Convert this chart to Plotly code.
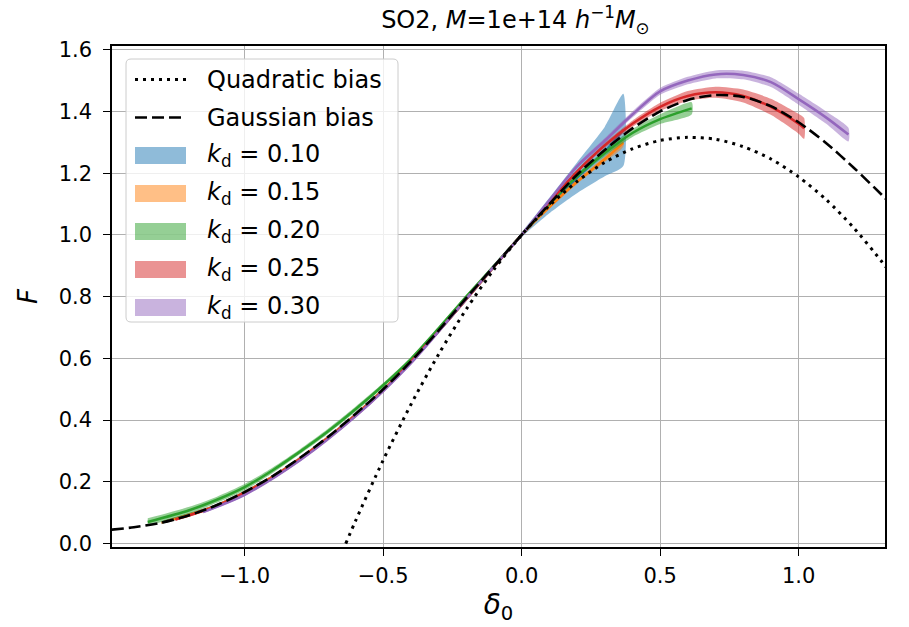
import plotly.graph_objects as go

# ---- data ----
quad_d = [-0.635, -0.6, -0.5, -0.4, -0.3, -0.2, -0.1, 0.0, 0.1, 0.2, 0.3, 0.4, 0.5, 0.6,
          0.7, 0.8, 0.9, 1.0, 1.1, 1.2, 1.3, 1.32]
quad_F = [0.0, 0.073, 0.27, 0.45, 0.613, 0.759, 0.888, 1.0, 1.095, 1.173, 1.235, 1.279, 1.306,
          1.316, 1.31, 1.286, 1.246, 1.188, 1.114, 1.022, 0.914, 0.89]

gauss_d = [-1.48, -1.4, -1.3, -1.2, -1.1, -1.0, -0.9, -0.8, -0.7, -0.6, -0.5, -0.4, -0.3,
           -0.2, -0.1, 0.0, 0.1, 0.2, 0.3, 0.4, 0.5, 0.6, 0.7, 0.8, 0.9, 1.0, 1.1, 1.2, 1.3, 1.32]
gauss_F = [0.045, 0.053, 0.068, 0.092, 0.125, 0.167, 0.218, 0.278, 0.345, 0.42, 0.50, 0.59,
           0.69, 0.795, 0.898, 1.0, 1.10, 1.195, 1.275, 1.345, 1.40, 1.437, 1.453, 1.447,
           1.417, 1.365, 1.297, 1.217, 1.13, 1.112]

kd_labels = ["0.10", "0.15", "0.20", "0.25", "0.30"]

kd010_d = [-1.30, -1.1, -0.9, -0.7, -0.5, -0.3, -0.1, 0.0, 0.1, 0.2, 0.3, 0.367]
kd010_F = [0.068, 0.124, 0.216, 0.343, 0.498, 0.688, 0.897, 1.0, 1.095, 1.185, 1.27, 1.34]
kd010_w = [0.005, 0.005, 0.005, 0.005, 0.005, 0.006, 0.007, 0.008, 0.025, 0.05, 0.08, 0.117]

kd015_d = [-1.30, -1.1, -0.9, -0.7, -0.5, -0.3, -0.1, 0.0, 0.1, 0.2, 0.3, 0.367]
kd015_F = [0.068, 0.124, 0.216, 0.343, 0.498, 0.688, 0.897, 1.0, 1.09, 1.172, 1.245, 1.298]
kd015_w = [0.004, 0.004, 0.004, 0.004, 0.004, 0.004, 0.004, 0.004, 0.005, 0.007, 0.009, 0.012]

kd020_d = [-1.35, -1.2, -1.1, -1.0, -0.9, -0.8, -0.7, -0.6, -0.5, -0.4, -0.3, -0.2, -0.1,
           0.0, 0.1, 0.2, 0.3, 0.4, 0.5, 0.614]
kd020_F = [0.070, 0.108, 0.142, 0.183, 0.237, 0.298, 0.363, 0.435, 0.513, 0.598, 0.697,
           0.80, 0.90, 1.0, 1.10, 1.19, 1.265, 1.33, 1.375, 1.41]
kd020_w = [0.012, 0.011, 0.01, 0.01, 0.009, 0.008, 0.008, 0.008, 0.007, 0.006, 0.005, 0.005,
           0.004, 0.004, 0.005, 0.007, 0.01, 0.013, 0.016, 0.02]

kd025_d = [-1.25, -1.1, -0.9, -0.7, -0.5, -0.3, -0.1, 0.0, 0.1, 0.2, 0.3, 0.4, 0.5, 0.6, 0.7,
           0.8, 0.9, 1.0, 1.02]
kd025_F = [0.078, 0.122, 0.214, 0.341, 0.496, 0.688, 0.897, 1.0, 1.105, 1.205, 1.29, 1.36,
           1.415, 1.45, 1.462, 1.45, 1.415, 1.36, 1.345]
kd025_w = [0.004, 0.004, 0.004, 0.004, 0.004, 0.004, 0.004, 0.004, 0.005, 0.006, 0.008, 0.01,
           0.013, 0.016, 0.018, 0.021, 0.026, 0.032, 0.034]

kd030_d = [-1.15, -1.0, -0.8, -0.6, -0.4, -0.2, -0.1, 0.0, 0.1, 0.2, 0.3, 0.4, 0.5, 0.6, 0.7,
           0.8, 0.9, 1.0, 1.1, 1.18]
kd030_F = [0.102, 0.158, 0.27, 0.412, 0.584, 0.793, 0.898, 1.0, 1.112, 1.222, 1.305, 1.39,
           1.465, 1.50, 1.52, 1.518, 1.495, 1.44, 1.38, 1.325]
kd030_w = [0.004, 0.004, 0.004, 0.004, 0.004, 0.004, 0.004, 0.004, 0.005, 0.006, 0.008, 0.01,
           0.011, 0.012, 0.013, 0.014, 0.016, 0.018, 0.02, 0.022]

x_ticks = [-1.0, -0.5, 0.0, 0.5, 1.0]
y_ticks = [0.0, 0.2, 0.4, 0.6, 0.8, 1.0, 1.2, 1.4, 1.6]
legend_labels = ["Quadratic bias", "Gaussian bias"] + \
                ["<i>k</i><sub>d</sub> = " + s for s in kd_labels]

# ---- styles ----
colors = ["#1f77b4", "#ff7f0e", "#2ca02c", "#d62728", "#9467bd"]
fills = ["rgba(31,119,180,0.5)", "rgba(255,127,14,0.5)", "rgba(44,160,44,0.5)",
         "rgba(214,39,40,0.5)", "rgba(148,103,189,0.5)"]
series = [(kd010_d, kd010_F, kd010_w), (kd015_d, kd015_F, kd015_w),
          (kd020_d, kd020_F, kd020_w), (kd025_d, kd025_F, kd025_w),
          (kd030_d, kd030_F, kd030_w)]
QUAD_LINE = dict(color="black", width=3, dash="3px,5px")
GAUSS_LINE = dict(color="black", width=2.6, dash="12px,5px")

FONT = "DejaVu Sans"
W, H = 909, 627
ML, MR, MT, MB = 112, 24, 46, 80
PW, PH = W - ML - MR, H - MT - MB


def px_x(px):
    return (px - ML) / PW


def px_y(py):
    return (H - MB - py) / PH


fig = go.Figure()

for i, (d, F, w) in enumerate(series):
    upper = [f + e for f, e in zip(F, w)]
    lower = [f - e for f, e in zip(F, w)]
    fig.add_trace(go.Scatter(x=list(d) + list(d)[::-1], y=upper + lower[::-1],
                             fill="toself", fillcolor=fills[i], mode="lines",
                             line=dict(width=0, color=fills[i], shape="spline", smoothing=0.6),
                             hoverinfo="skip"))
    fig.add_trace(go.Scatter(x=d, y=F, mode="lines",
                             line=dict(color=colors[i], width=2.5, shape="spline",
                                       smoothing=0.8)))

fig.add_trace(go.Scatter(x=quad_d, y=quad_F, mode="lines",
                         line=dict(**QUAD_LINE, shape="spline", smoothing=0.8)))
fig.add_trace(go.Scatter(x=gauss_d, y=gauss_F, mode="lines",
                         line=dict(**GAUSS_LINE, shape="spline", smoothing=0.8)))

axis_common = dict(showline=True, linecolor="black", linewidth=1.5, mirror=True,
                   ticks="outside", ticklen=7, tickwidth=1.3, tickcolor="black",
                   showgrid=True, gridcolor="#b0b0b0", gridwidth=1.3, zeroline=False,
                   tickfont=dict(family=FONT, size=21, color="black"))

fig.update_xaxes(range=[-1.479, 1.312], tickvals=x_ticks,
                 ticktext=[("−" if v < 0 else "") + f"{abs(v):.1f}" for v in x_ticks],
                 ticklabelstandoff=2,
                 title=dict(text="<i>δ</i><sub>0</sub>", font=dict(family=FONT, size=28,
                                                                   color="black"),
                            standoff=6),
                 **axis_common)
fig.update_yaxes(range=[-0.011, 1.612], tickvals=y_ticks,
                 ticktext=[f"{v:.1f}" for v in y_ticks],
                 ticklabelstandoff=7,
                 title=dict(text="<i>F</i>", font=dict(family=FONT, size=26, color="black"),
                            standoff=14),
                 **axis_common)

# ---- legend drawn as a box with samples and text ----
bx0, bx1, by0, by1, r = px_x(126), px_x(398), px_y(59), px_y(322), 5
rx, ry = r / PW, r / PH
box = (f"M{bx0 + rx},{by0} L{bx1 - rx},{by0} Q{bx1},{by0} {bx1},{by0 - ry} "
       f"L{bx1},{by1 + ry} Q{bx1},{by1} {bx1 - rx},{by1} L{bx0 + rx},{by1} "
       f"Q{bx0},{by1} {bx0},{by1 + ry} L{bx0},{by0 - ry} Q{bx0},{by0} {bx0 + rx},{by0} Z")
shapes = [dict(type="path", path=box, xref="paper", yref="paper",
               fillcolor="rgba(255,255,255,0.8)", line=dict(color="#cccccc", width=1))]
rows = [79.5 + 38 * k for k in range(7)]
sx0, sx1 = px_x(135), px_x(186)
shapes.append(dict(type="line", xref="paper", yref="paper", x0=sx0, x1=sx1,
                   y0=px_y(rows[0]), y1=px_y(rows[0]), line=QUAD_LINE))
shapes.append(dict(type="line", xref="paper", yref="paper", x0=sx0, x1=sx1,
                   y0=px_y(rows[1]), y1=px_y(rows[1]), line=GAUSS_LINE))
for i in range(5):
    yc = rows[2 + i]
    shapes.append(dict(type="rect", xref="paper", yref="paper", x0=sx0, x1=sx1,
                       y0=px_y(yc + 8.5), y1=px_y(yc - 8.5), fillcolor=fills[i],
                       line=dict(width=0)))
annotations = [dict(text=lab, xref="paper", yref="paper", x=px_x(205), y=px_y(yc),
                    xanchor="left", yanchor="middle", showarrow=False,
                    font=dict(family=FONT, size=24, color="black"))
               for lab, yc in zip(legend_labels, rows)]

fig.update_layout(
    width=W, height=H,
    margin=dict(l=ML, r=MR, t=MT, b=MB),
    paper_bgcolor="white", plot_bgcolor="white",
    title=dict(text="SO2, <i>M</i>=1e+14 <i>h</i><sup>−1</sup><i>M</i><sub>⊙</sub>",
               x=0.567, xanchor="center", y=0.968, yanchor="middle",
               font=dict(family=FONT, size=24, color="black")),
    showlegend=False,
    shapes=shapes,
    annotations=annotations,
)

fig.write_html("out.html")
